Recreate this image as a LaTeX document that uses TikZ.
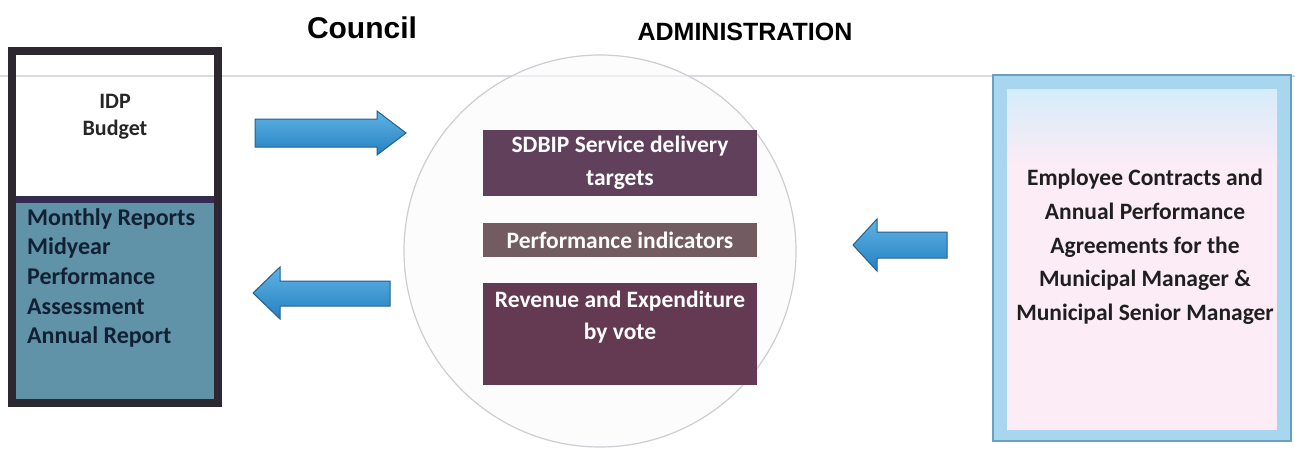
\documentclass[tikz,border=0pt]{standalone}
\usepackage{fontspec}
\setmainfont{Carlito}
\newfontfamily\headfont{Liberation Sans}
\definecolor{framedark}{RGB}{45,40,48}
\definecolor{sepdark}{RGB}{52,42,82}
\definecolor{tealfill}{RGB}{96,146,168}
\definecolor{navytext}{RGB}{18,32,52}
\definecolor{plumA}{RGB}{96,64,90}
\definecolor{plumB}{RGB}{114,92,98}
\definecolor{plumC}{RGB}{100,58,82}
\definecolor{arrowtop}{RGB}{95,180,228}
\definecolor{arrowbot}{RGB}{38,128,192}
\definecolor{arrowline}{RGB}{36,96,142}
\definecolor{skyframe}{RGB}{168,214,238}
\definecolor{skyline}{RGB}{104,160,196}
\definecolor{skyin}{RGB}{214,236,249}
\definecolor{pinkin}{RGB}{252,236,246}
\definecolor{ringgray}{RGB}{205,205,212}
\definecolor{rulegray}{RGB}{218,218,224}
\begin{document}
\begin{tikzpicture}[x=1pt,y=-1pt,
  heading/.style={inner sep=0pt, font=\headfont\bfseries},
  bodytext/.style={inner sep=0pt, font=\fontsize{23.5}{33}\selectfont\bfseries},
  plumbox/.style={inner sep=0pt, minimum width=274pt, text=white},
  blockarrow/.style={top color=arrowtop, bottom color=arrowbot, draw=arrowline, line width=1pt, line join=miter}]
\useasboundingbox (0,0) rectangle (1295,452);
\fill[white] (0,0) rectangle (1295,452);

% faint ruled line across the page
\draw[rulegray, line width=1.2pt] (0,76) -- (1295,76);

% headings
\node[heading, font=\headfont\bfseries\fontsize{30}{34}\selectfont] (council) at (362,28) {Council};
\node[heading, font=\headfont\bfseries\fontsize{25}{30}\selectfont] (admin) at (745,32) {ADMINISTRATION};

% council box: plans on top, reports below
\fill[tealfill] (16,200) rectangle (214,402);
\fill[sepdark] (16,196) rectangle (214,203);
\draw[framedark, line width=8pt] (12,51) rectangle (218,403);
\node[bodytext, align=center, font=\fontsize{22}{27}\selectfont\bfseries, text=black!85] (plan) at (115,117) {IDP\\Budget};
\node[bodytext, align=left, anchor=west, font=\fontsize{24}{29.7}\selectfont\bfseries, text=navytext] (reports) at (27,278)
  {Monthly Reports\\Midyear\\Performance\\Assessment\\Annual Report};

% administration circle
\node[circle, minimum size=392pt, draw=ringgray, line width=1.2pt, fill=gray!4, fill opacity=0.6, inner sep=0pt] (ring) at (600,251) {};
\node[plumbox, fill=plumA, minimum height=66pt, align=center, font=\fontsize{23.5}{33}\selectfont\bfseries] (sdbip) at (620,163)
  {SDBIP Service delivery\\targets};
\node[plumbox, fill=plumB, minimum height=34pt, font=\fontsize{23.5}{33}\selectfont\bfseries] (kpi) at (620,240) {Performance indicators};
\node[plumbox, fill=plumC, minimum height=102pt] (revexp) at (620,334) {};
\node[bodytext, text=white, align=center, font=\fontsize{23.5}{32}\selectfont\bfseries] (revexptext) at (620,317)
  {Revenue and Expenditure\\by vote};

% employee agreements box
\fill[skyframe, draw=skyline, line width=1.2pt] (993,75) rectangle (1291,441);
\fill[pinkin] (1007,165) rectangle (1277,430);
\shade[top color=skyin, bottom color=pinkin] (1007,89) rectangle (1277,166);
\node[bodytext, align=center, font=\fontsize{23.5}{33.7}\selectfont\bfseries, text=black!88] (contracts) at (1145,247)
  {Employee Contracts and\\Annual Performance\\Agreements for the\\Municipal Manager \&\\Municipal Senior Manager};

% block arrows
\path[blockarrow] (255,119) -- (377,119) -- (377,111) -- (406,133) -- (377,155) -- (377,147) -- (255,147) -- cycle;
\path[blockarrow] (390,281) -- (280,281) -- (280,267) -- (253,293) -- (280,319) -- (280,306) -- (390,306) -- cycle;
\path[blockarrow] (947,232) -- (877,232) -- (877,219) -- (853,245) -- (877,271) -- (877,258) -- (947,258) -- cycle;
\end{tikzpicture}
\end{document}
